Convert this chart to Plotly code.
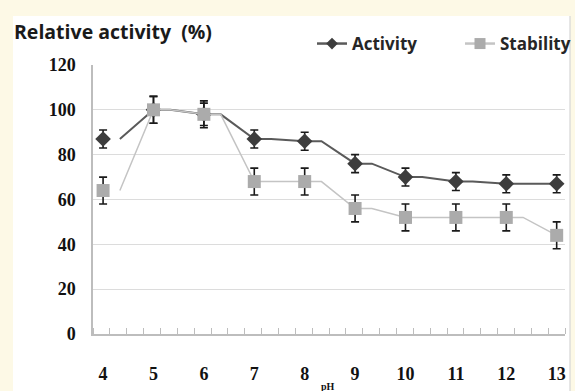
import plotly.graph_objects as go

# ---- data ----
ph = [4, 5, 6, 7, 8, 9, 10, 11, 12, 13]
activity = [87, 100, 98, 87, 86, 76, 70, 68, 67, 67]
activity_err = [4, 6, 5, 4, 4, 4, 4, 4, 4, 4]
stability = [64, 100, 98, 68, 68, 56, 52, 52, 52, 44]
stability_err = [6, 6, 6, 6, 6, 6, 6, 6, 6, 6]
y_ticks = [0, 20, 40, 60, 80, 100, 120]

# ---- style ----
HOLD = 1 / 3  # the source's line holds each value for a third of a step before moving on
ACT_LINE = "#5a5a5a"
ACT_MARK = "#3d3d3d"
STA_LINE = "#c4c4c4"
STA_MARK = "#ababab"
CREAM = "#fdf9e6"
W, H = 575, 391
ML, MR, MT, MB = 93, 10, 65, 57
PW, PH = W - ML - MR, H - MT - MB


def held_line(xs, ys):
    lx, ly = [], []
    for i, (x, y) in enumerate(zip(xs, ys)):
        if i > 0:
            lx.append(x)
            ly.append(y)
        if i < len(xs) - 1:
            lx.append(x + HOLD)
            ly.append(y)
    return lx, ly


def px_x(p):
    return (p - ML) / PW


def px_y(p):
    return (H - MB - p) / PH


fig = go.Figure()

for vals, errs, lcol, mcol, sym, msz, lw, name in [
    (activity, activity_err, ACT_LINE, ACT_MARK, "diamond", 12, 2, "Activity"),
    (stability, stability_err, STA_LINE, STA_MARK, "square", 13, 1.5, "Stability"),
]:
    lx, ly = held_line(ph, vals)
    fig.add_trace(go.Scatter(x=lx, y=ly, mode="lines", line=dict(color=lcol, width=lw),
                             showlegend=False, hoverinfo="skip"))
    fig.add_trace(go.Scatter(x=ph, y=vals, mode="markers",
                             marker=dict(symbol=sym, size=msz, color=mcol),
                             error_y=dict(type="data", array=errs, visible=True,
                                          color="#1a1a1a", thickness=1.6, width=4),
                             showlegend=False, name=name))
    # legend-only entry
    fig.add_trace(go.Scatter(x=[None], y=[None], mode="lines+markers", name=name,
                             line=dict(color=lcol, width=2.5),
                             marker=dict(symbol=sym, size=9 if sym == "diamond" else 11, color=mcol)))

fig.update_layout(
    width=W, height=H,
    margin=dict(l=ML, r=MR, t=MT, b=MB, pad=0, autoexpand=False),
    paper_bgcolor=CREAM,
    plot_bgcolor="white",
    showlegend=True,
    legend=dict(orientation="h", x=px_x(312), xanchor="left", y=px_y(44), yanchor="middle",
                bgcolor="rgba(0,0,0,0)",
                font=dict(family="Open Sans, Liberation Sans, sans-serif", size=17,
                          color="#262626", weight="bold"),
                itemwidth=30, tracegroupgap=0, entrywidth=103, entrywidthmode="pixels"),
    xaxis=dict(range=[3.8, 3.8 + PW / 50.4], tickvals=ph, ticktext=[str(p) for p in ph],
               ticks="", ticklabelstandoff=23,
               tickfont=dict(family="Liberation Serif, serif", size=18, color="#111111", weight="bold"),
               showgrid=False, zeroline=False, showline=True, linecolor="#bdbdbd", linewidth=1.5,
               minor=dict(ticks="inside", tick0=3.8, dtick=(PW / 50.4) / 28, ticklen=6,
                          tickcolor="#bdbdbd", tickwidth=1.2, showgrid=False)),
    yaxis=dict(range=[0, 120], tickvals=y_ticks, ticks="", ticklabelstandoff=12,
               tickfont=dict(family="Liberation Serif, serif", size=18, color="#111111", weight="bold"),
               showgrid=True, gridcolor="#dcdcdc", gridwidth=1.2, zeroline=False,
               showline=True, linecolor="#bdbdbd", linewidth=1.5),
    shapes=[
        dict(type="rect", xref="paper", yref="paper", x0=px_x(13), x1=px_x(570), y0=px_y(391), y1=px_y(16),
             fillcolor="white", line=dict(width=0), layer="below"),
        dict(type="line", xref="paper", yref="paper", x0=px_x(570), x1=px_x(570), y0=px_y(391), y1=px_y(16),
             line=dict(color="#d6d6d6", width=1.2), layer="below"),
    ],
    annotations=[
        dict(text="pH", xref="paper", yref="paper", x=px_x(328), y=px_y(379),
             xanchor="center", yanchor="top", showarrow=False,
             font=dict(family="Liberation Serif, serif", size=10, color="#111111", weight="bold")),
        dict(text="Relative activity  (%)", xref="paper", yref="paper", x=px_x(12), y=px_y(31),
             xanchor="left", yanchor="middle", showarrow=False,
             font=dict(family="Open Sans, Liberation Sans, sans-serif", size=19.5, color="#1a1a1a", weight="bold")),
    ],
)

fig.write_html("out.html")
